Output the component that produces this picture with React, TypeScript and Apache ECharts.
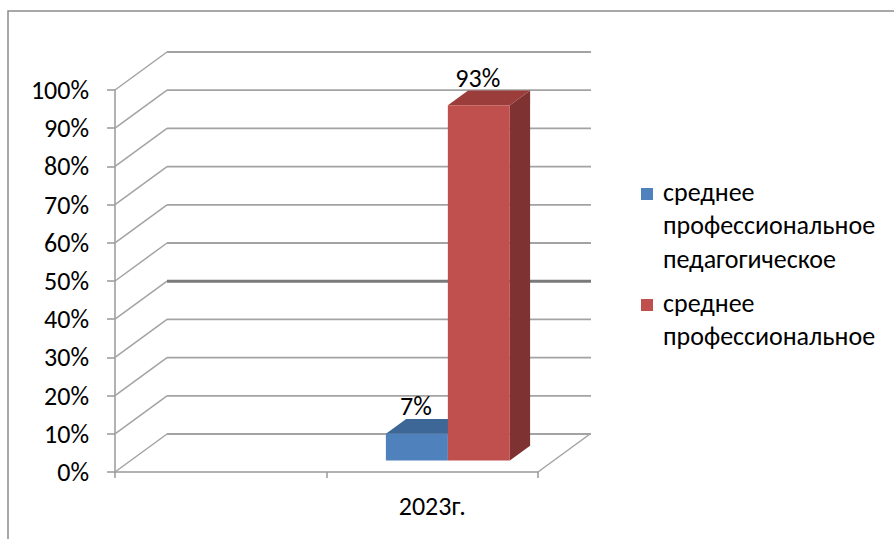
import React, { useEffect, useRef } from "react";
import * as echarts from "echarts";

// ---- data ----
const categories = ["", "2023г."];
const yTicks = [0, 10, 20, 30, 40, 50, 60, 70, 80, 90, 100];
const seriesNames = [
  "среднее профессиональное педагогическое",
  "среднее профессиональное",
];
const legendLines = [
  ["среднее", "профессиональное", "педагогическое"],
  ["среднее", "профессиональное"],
];
const pedagogicalValues = [null, 7];
const professionalValues = [null, 93];

// ---- styles ----
const FONT = "Carlito, Lato, 'Noto Sans', sans-serif";
const FS = 26;
const DX = 52; // 3D depth vector
const DY = -38;
const GRID_COLOR = "#a3a3a3";
const EMPH_COLOR = "#7a7a7a";
const emphasizedTick = 40; // back-wall line drawn heavier in the reference
const colors = [
  { front: "#4F81BD", top: "#3D6797", side: "#34587f" },
  { front: "#C0504D", top: "#9A3D3B", side: "#7E3231" },
];

function toData(vals: (number | null)[]) {
  const out: number[][] = [];
  vals.forEach((v, i) => {
    if (v != null) out.push([i, v]);
  });
  return out;
}

function barRenderer(idx: number) {
  return (params: any, api: any) => {
    const cat = api.value(0);
    const val = api.value(1);
    const base = api.coord([cat, 0]);
    const top = api.coord([cat, val]);
    const band = api.size([1, 0])[0];
    const barW = band * 0.293;
    const fx = DX * 0.3;
    const fy = DY * 0.3;
    const dx = DX * 0.39;
    const dy = DY * 0.39;
    const x0 = (idx === 0 ? base[0] - barW : base[0]) + fx;
    const x1 = x0 + barW;
    const yb = base[1] + fy;
    const yt = top[1] + fy;
    const c = colors[idx];
    return {
      type: "group",
      children: [
        {
          type: "polygon",
          shape: { points: [[x1, yt], [x1 + dx, yt + dy], [x1 + dx, yb + dy], [x1, yb]] },
          style: { fill: c.side },
        },
        {
          type: "polygon",
          shape: { points: [[x0, yt], [x0 + dx, yt + dy], [x1 + dx, yt + dy], [x1, yt]] },
          style: { fill: c.top },
        },
        {
          type: "rect",
          shape: { x: x0, y: yt, width: barW, height: yb - yt },
          style: { fill: c.front },
        },
        {
          type: "text",
          x: (x0 + x1) / 2 - 1,
          y: yt + dy - 13,
          style: {
            text: val + "%",
            fontFamily: FONT,
            fontSize: FS,
            fill: "#000",
            align: "center",
            verticalAlign: "middle",
          },
        },
      ],
    };
  };
}

export default function App() {
  const ref = useRef<HTMLDivElement>(null);
  useEffect(() => {
    if (!ref.current) return;
    const chart = echarts.init(ref.current, null, { renderer: "svg" });
    const legendGraphics: any[] = [];
    const legendTops = [192, 303];
    legendLines.forEach((lines, i) => {
      legendGraphics.push({
        type: "rect",
        shape: { x: 641, y: legendTops[i] - 4, width: 12, height: 12 },
        style: { fill: colors[i].front },
      });
      lines.forEach((ln, j) => {
        legendGraphics.push({
          type: "text",
          x: 663,
          y: legendTops[i] + j * 33.3,
          style: {
            text: ln,
            fontFamily: FONT,
            fontSize: FS,
            fill: "#000",
            align: "left",
            verticalAlign: "middle",
          },
        });
      });
    });
    chart.setOption({
      animation: false,
      backgroundColor: "#fff",
      grid: { left: 115, top: 90, width: 423, height: 382 },
      xAxis: {
        type: "category",
        data: categories,
        boundaryGap: true,
        axisLine: { lineStyle: { color: "#999", width: 1.5 } },
        axisTick: { show: true, length: 6, lineStyle: { color: "#999", width: 1.5 } },
        axisLabel: { fontFamily: FONT, fontSize: FS, color: "#000", margin: 21 },
        splitLine: { show: false },
      },
      yAxis: {
        type: "value",
        min: 0,
        max: 100,
        interval: 10,
        axisLine: { show: true, lineStyle: { color: "#999", width: 1.5 } },
        axisTick: { show: true, length: 8, lineStyle: { color: "#999", width: 1.5 } },
        axisLabel: {
          formatter: "{value}%",
          fontFamily: FONT,
          fontSize: FS,
          color: "#000",
          margin: 26,
        },
        splitLine: { show: false },
      },
      graphic: [
        {
          type: "rect",
          shape: { x: 8, y: 11, width: 1000, height: 700 },
          style: { fill: "none", stroke: "#8c8c8c", lineWidth: 1.5 },
          silent: true,
        },
        ...legendGraphics,
      ],
      series: [
        {
          name: "gridlines",
          type: "custom",
          silent: true,
          data: yTicks.map((v) => [0, v]),
          renderItem: (params: any, api: any) => {
            const cs = params.coordSys;
            const v = api.value(1);
            const y = api.coord([0, v])[1];
            const emph = v === emphasizedTick;
            return {
              type: "group",
              children: [
                {
                  type: "line",
                  shape: { x1: cs.x, y1: y, x2: cs.x + DX, y2: y + DY },
                  style: { stroke: GRID_COLOR, lineWidth: 1.5 },
                },
                {
                  type: "line",
                  shape: { x1: cs.x + DX, y1: y + DY, x2: cs.x + cs.width + DX + 1, y2: y + DY },
                  style: { stroke: emph ? EMPH_COLOR : GRID_COLOR, lineWidth: emph ? 3 : 1.8 },
                },
              ],
            };
          },
        },
        {
          name: "floor",
          type: "custom",
          silent: true,
          data: [[0, 0]],
          renderItem: (params: any, api: any) => {
            const cs = params.coordSys;
            const y = api.coord([0, 0])[1];
            const x = cs.x + cs.width;
            return {
              type: "line",
              shape: { x1: x, y1: y, x2: x + DX, y2: y + DY },
              style: { stroke: GRID_COLOR, lineWidth: 1.5 },
            };
          },
        },
        {
          name: seriesNames[0],
          type: "custom",
          data: toData(pedagogicalValues),
          renderItem: barRenderer(0),
        },
        {
          name: seriesNames[1],
          type: "custom",
          data: toData(professionalValues),
          renderItem: barRenderer(1),
        },
      ],
    });
    return () => chart.dispose();
  }, []);
  return (
    <div
      ref={ref}
      style={{ position: "absolute", left: 0, top: 0, width: 894, height: 539 }}
    />
  );
}
